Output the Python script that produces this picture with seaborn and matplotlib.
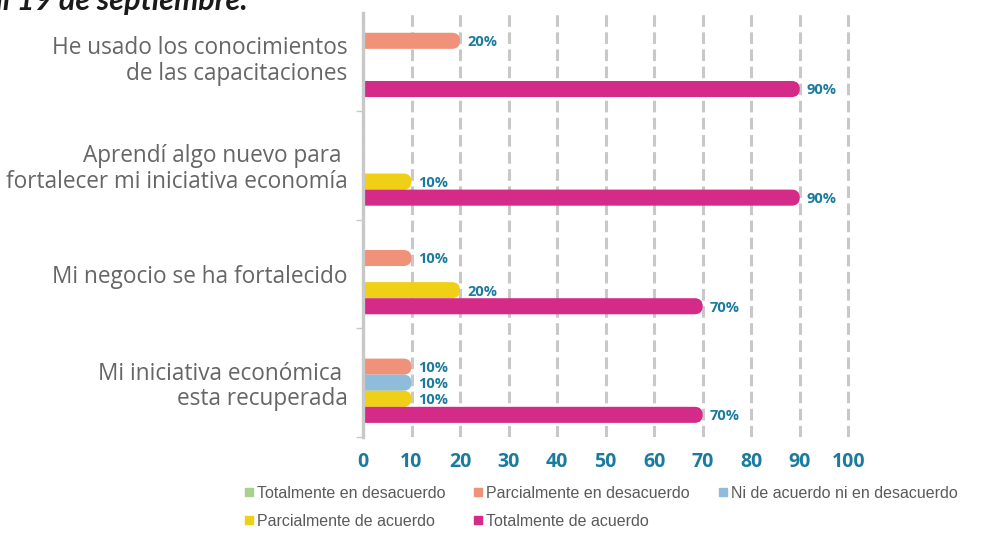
import pandas as pd
import matplotlib
matplotlib.use("Agg")
import matplotlib.pyplot as plt
from matplotlib.patches import FancyBboxPatch
from matplotlib.lines import Line2D
import seaborn as sns

# Datos de la encuesta (porcentajes)
preguntas = [
    "He usado los conocimientos\nde las capacitaciones",
    "Aprendí algo nuevo para \nfortalecer mi iniciativa economía",
    "Mi negocio se ha fortalecido",
    "Mi iniciativa económica \nesta recuperada",
]
niveles = [
    "Totalmente en desacuerdo",
    "Parcialmente en desacuerdo",
    "Ni de acuerdo ni en desacuerdo",
    "Parcialmente de acuerdo",
    "Totalmente de acuerdo",
]
totalmente_desacuerdo = [0, 0, 0, 0]
parcialmente_desacuerdo = [20, 0, 10, 10]
ni_ni = [0, 0, 0, 10]
parcialmente_acuerdo = [0, 10, 20, 10]
totalmente_acuerdo = [90, 90, 70, 70]
colores = ["#a9d18e", "#f0917a", "#8fbcdb", "#efd016", "#d42a88"]
ticks_x = [0, 10, 20, 30, 40, 50, 60, 70, 80, 90, 100]

series = [totalmente_desacuerdo, parcialmente_desacuerdo, ni_ni,
          parcialmente_acuerdo, totalmente_acuerdo]
filas = []
for nivel, vals in zip(niveles, series):
    for p, v in zip(preguntas, vals):
        filas.append({"pregunta": p, "nivel": nivel, "valor": v})
df = pd.DataFrame(filas)

sns.set_style("white")
plt.rcParams["font.family"] = ["Open Sans", "DejaVu Sans"]

azul = "#1b7b9e"
gris = "#c8c8c8"

fig = plt.figure(figsize=(9.88, 5.36), dpi=100)
ax = fig.add_axes([363 / 988, 1 - 437 / 536, (858 - 363) / 988, (437 - 13) / 536])

sns.barplot(data=df, y="pregunta", x="valor", hue="nivel", hue_order=niveles,
            order=preguntas, palette=colores, orient="h", width=0.74, gap=0,
            saturation=1, linewidth=0, ax=ax, legend=False)

ax.set_xlim(0, 102)
ax.set_ylim(3.486, -0.404)
ax.set_xticks(ticks_x)
ax.set_xticklabels([str(t) for t in ticks_x])
ax.set_xlabel("")
ax.set_ylabel("")

# rejilla y ejes
ax.set_axisbelow(True)
ax.grid(axis="x", color=gris, lw=2.2, linestyle=(0, (3.8, 1.8)))
ax.grid(axis="y", visible=False)
for s in ["top", "right", "bottom"]:
    ax.spines[s].set_visible(False)
ax.spines["left"].set_color(gris)
ax.spines["left"].set_linewidth(2.4)
ax.spines["left"].set_zorder(3)
ax.set_yticks([0.5, 1.5, 2.5, 3.5], minor=True)
ax.tick_params(axis="y", which="minor", length=5, width=1, color=gris, left=True)
ax.tick_params(axis="y", which="major", length=0, pad=11, labelsize=16.3, labelcolor="#666666")
ax.tick_params(axis="x", length=0, pad=11, labelsize=14, labelcolor=azul)
for lab in ax.get_xticklabels():
    lab.set_fontweight("bold")
for lab in ax.get_yticklabels():
    lab.set_fontweight("medium")
    lab.set_linespacing(1.1)

# barras con punta redondeada
fig.canvas.draw()
p0 = ax.transData.transform((0, 0))
p1 = ax.transData.transform((1, 1))
px_x = abs(p1[0] - p0[0])
px_y = abs(p1[1] - p0[1])
for bar in list(ax.patches):
    w = bar.get_width()
    y0 = bar.get_y()
    h = bar.get_height()
    color = bar.get_facecolor()
    bar.remove()
    if w <= 0:
        continue
    r_x = (abs(h) * px_y / 2) / px_x
    redondo = FancyBboxPatch((-r_x, y0), w + r_x, h,
                             boxstyle=f"round,pad=0,rounding_size={r_x}",
                             mutation_aspect=px_x / px_y,
                             facecolor=color, edgecolor="none", zorder=2)
    ax.add_patch(redondo)
    ax.annotate(f"{w:.0f}%", (w, y0 + h / 2), xytext=(5, -1),
                textcoords="offset points", ha="left", va="center",
                fontsize=10.5, fontweight="bold", color=azul)

# leyenda
manejadores = [Line2D([], [], marker="s", linestyle="", markersize=6,
                      markerfacecolor=c, markeredgecolor=c) for c in colores]
orden = [0, 3, 1, 4, 2]
ax.legend([manejadores[i] for i in orden], [niveles[i] for i in orden],
          ncol=3, loc="lower left", bbox_to_anchor=(234 / 988, -0.004),
          bbox_transform=fig.transFigure, frameon=False,
          handlelength=0.7, handletextpad=0.15, columnspacing=1.7,
          labelspacing=0.8, borderpad=0.1,
          prop={"family": ["Liberation Sans", "DejaVu Sans"], "size": 11.5},
          labelcolor="#5a5a5a")

# titulo recortado en la parte superior
fig.text(248 / 988, 1 - 10 / 536, "al 19 de septiembre.", ha="right",
         va="baseline", fontsize=22, fontweight="bold", fontstyle="italic",
         color="#1a1a1a", family=["Lato", "DejaVu Sans"])

fig.savefig("out.png", dpi=100)
